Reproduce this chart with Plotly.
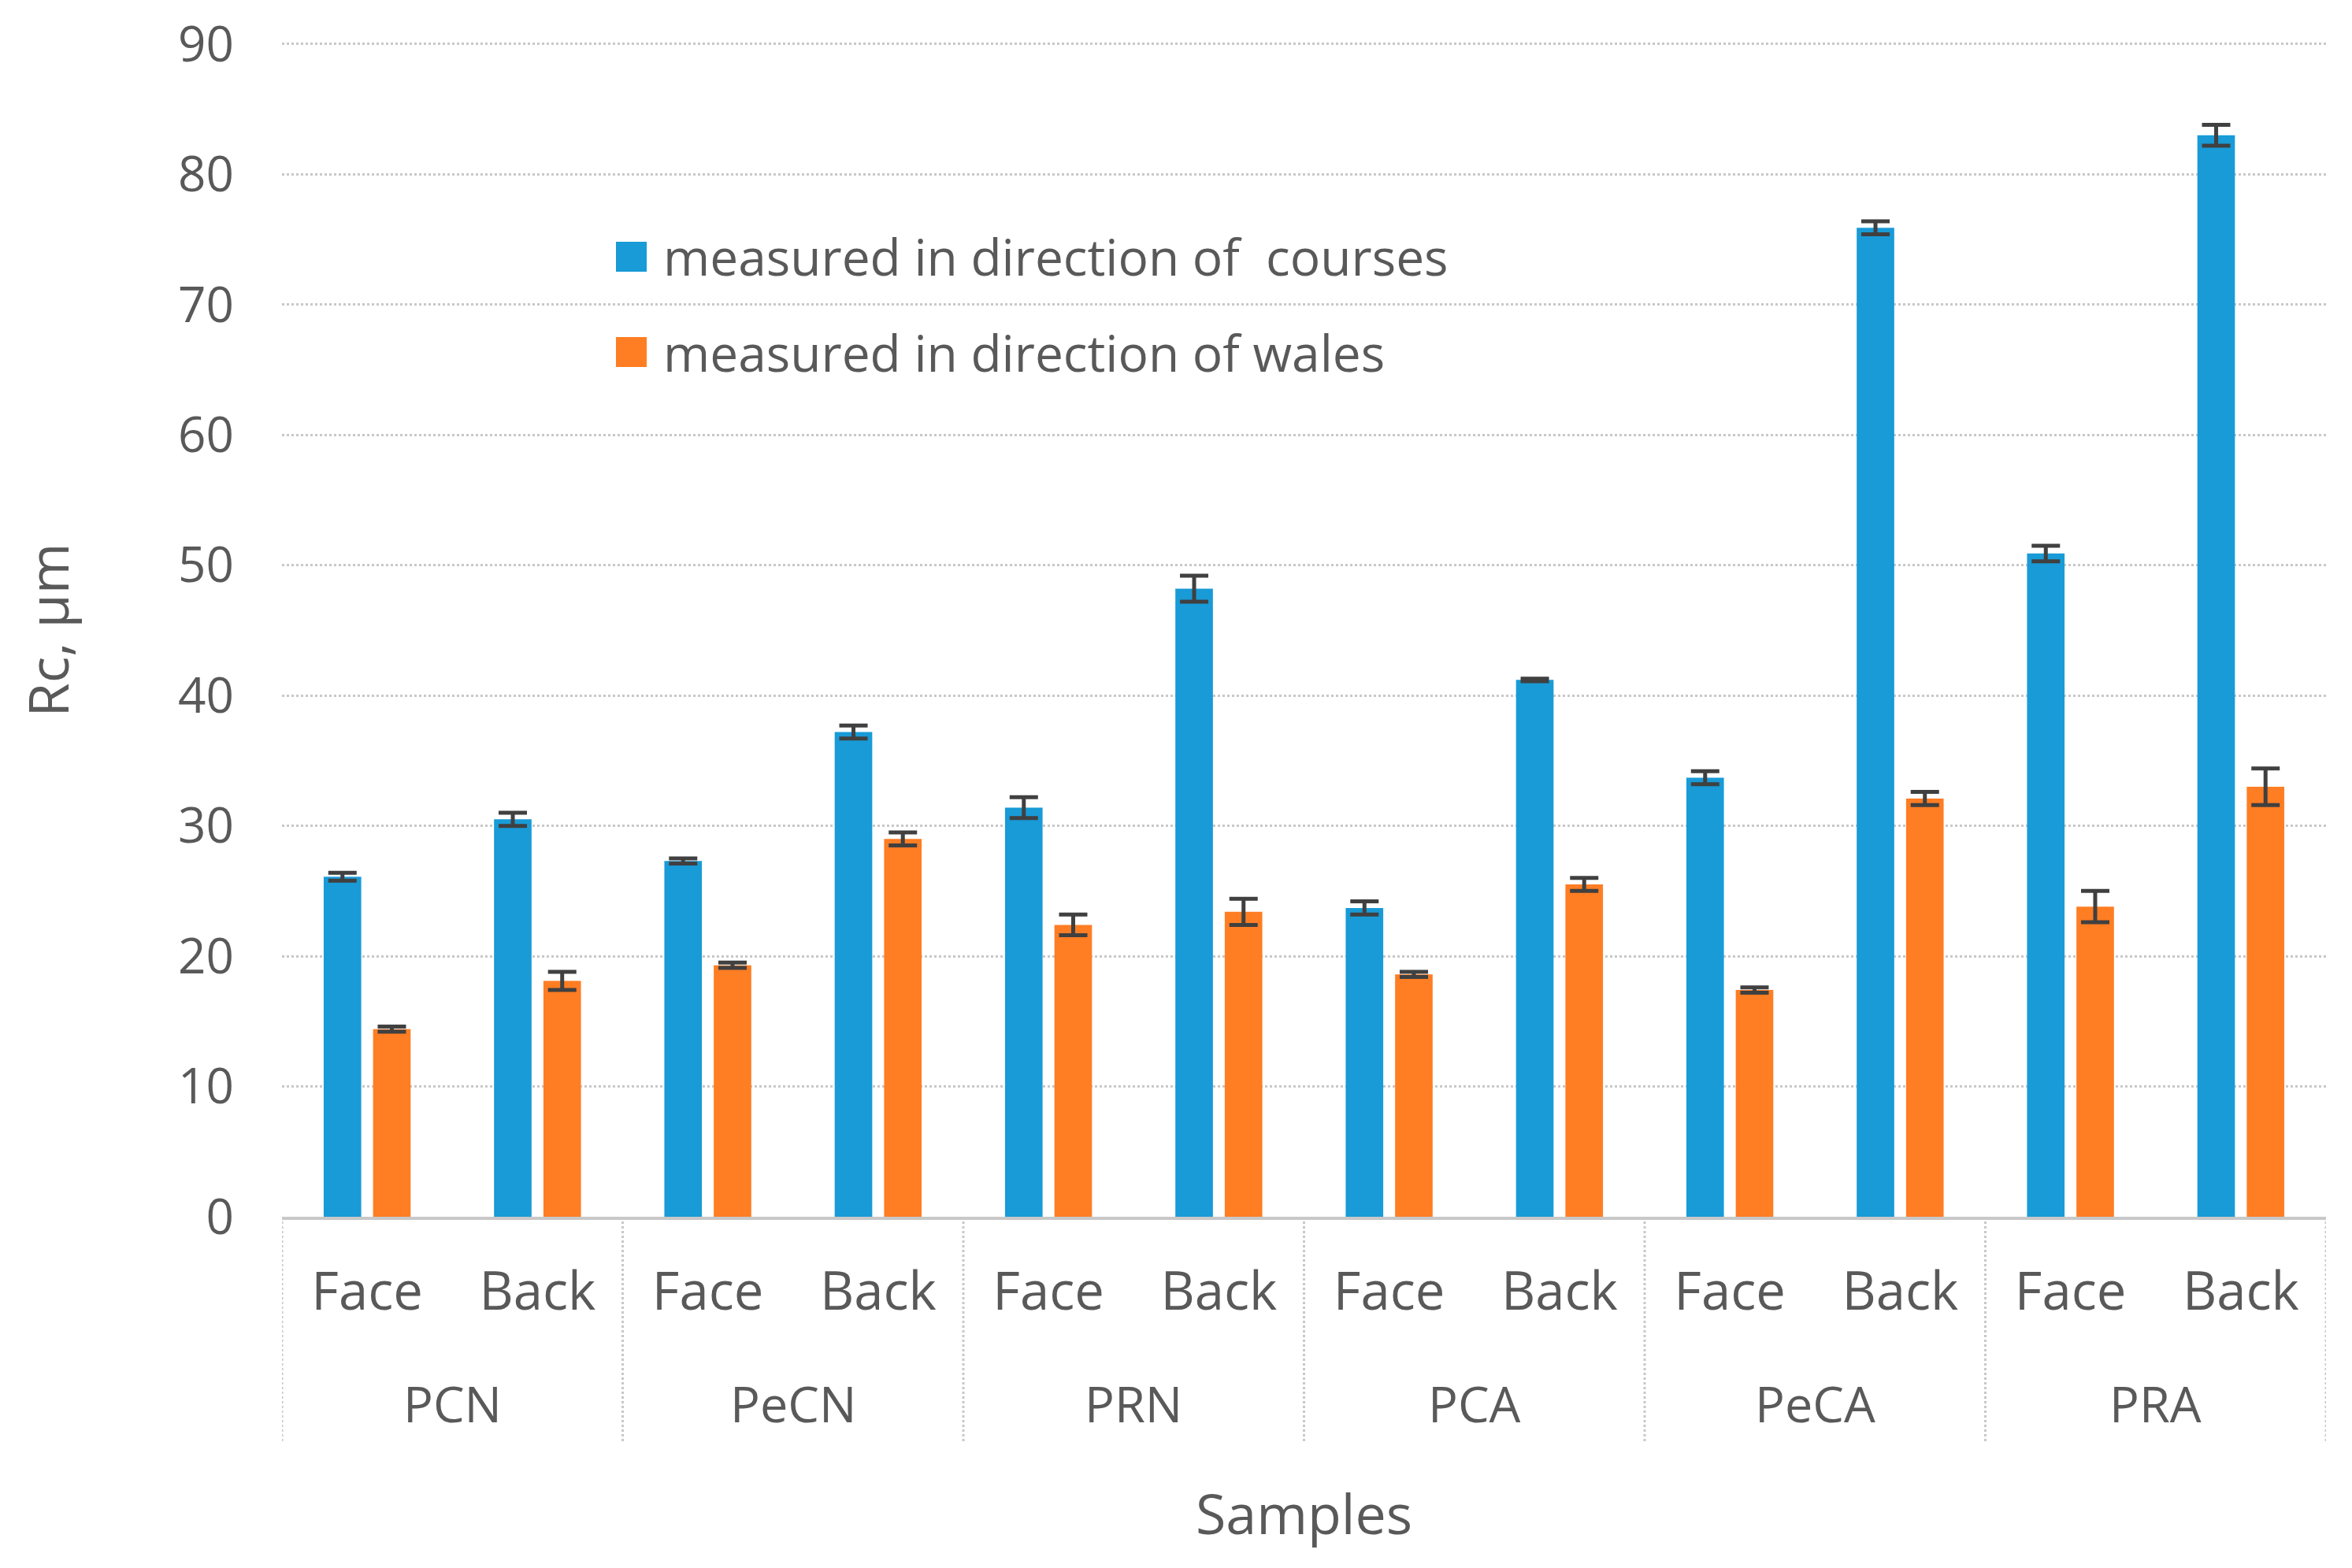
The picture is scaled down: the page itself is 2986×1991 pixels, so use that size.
import plotly.graph_objects as go

groups = ["PCN", "PeCN", "PRN", "PCA", "PeCA", "PRA"]
sides = ["Face", "Back"]

courses = [26.1, 30.5, 27.3, 37.2, 31.4, 48.2, 23.7, 41.2, 33.7, 75.9, 50.9, 83.0]
courses_err = [0.3, 0.5, 0.2, 0.5, 0.8, 1.0, 0.5, 0.1, 0.5, 0.5, 0.6, 0.8]
wales = [14.4, 18.1, 19.3, 29.0, 22.4, 23.4, 18.6, 25.5, 17.4, 32.1, 23.8, 33.0]
wales_err = [0.2, 0.7, 0.2, 0.5, 0.8, 1.0, 0.2, 0.5, 0.2, 0.5, 1.2, 1.4]

y_ticks = [0, 10, 20, 30, 40, 50, 60, 70, 80, 90]
y_max = 90.6

series_names = ["measured in direction of  courses", "measured in direction of wales"]
series_colors = ["#189BD7", "#FF7D23"]

x_keys = [f"{g} {s}" for g in groups for s in sides]
x_side_labels = [s for _ in groups for s in sides]

FONT = "Open Sans"
TXT = "#595959"
ERR = "#404040"
GRID = "#c8c8c8"

W, H = 2986, 1991
ML, MR, MT, MB = 350, 41, 38, 454
plot_w = W - ML - MR
plot_h = H - MT - MB
axis_y = H - MB          # bottom of plot area, figure px

fig = go.Figure()
for name, vals, errs, col in [(series_names[0], courses, courses_err, series_colors[0]),
                              (series_names[1], wales, wales_err, series_colors[1])]:
    fig.add_trace(go.Bar(
        x=x_keys, y=vals, name=name,
        marker=dict(color=col, line=dict(width=0)),
        error_y=dict(type="data", array=errs, visible=True, color=ERR, thickness=5, width=18),
        showlegend=False,
    ))

def py(px_below_axis):
    return -px_below_axis / plot_h

def px_x(fig_x):
    return (fig_x - ML) / plot_w

def px_y(fig_y):
    return (axis_y - fig_y) / plot_h

shapes = []
annotations = []
# category dividers below the axis
for i in range(len(groups) + 1):
    xb = i * len(sides) - 0.5
    shapes.append(dict(type="line", xref="x", yref="paper", x0=xb, x1=xb,
                       y0=0, y1=py(287), line=dict(color=GRID, width=3, dash="dot")))
# group labels
for i, g in enumerate(groups):
    annotations.append(dict(x=i * len(sides) + 0.5, y=py(236), xref="x", yref="paper",
                            text=g, showarrow=False, xanchor="center", yanchor="middle",
                            font=dict(size=63, color=TXT, family=FONT)))
# legend (squares + text)
leg_y = [px_y(318), px_y(439)]
sq = 19 / plot_h
for name, col, yc in zip(series_names, series_colors, leg_y):
    shapes.append(dict(type="rect", xref="paper", yref="paper",
                       x0=px_x(774), x1=px_x(813),
                       y0=yc - sq, y1=yc + sq, fillcolor=col, line=dict(width=0)))
    annotations.append(dict(x=px_x(832), y=yc, xref="paper", yref="paper",
                            text=name, showarrow=False, xanchor="left", yanchor="middle",
                            font=dict(size=64, color=TXT, family=FONT)))
# y-axis title
annotations.append(dict(x=px_x(52), y=0.5 * 90 / y_max, xref="paper", yref="paper",
                        text="Rc, µm", textangle=-90, showarrow=False,
                        xanchor="center", yanchor="middle",
                        font=dict(size=70, color=TXT, family=FONT)))

fig.update_layout(
    width=W, height=H,
    margin=dict(l=ML, r=MR, t=MT, b=MB, autoexpand=False),
    paper_bgcolor="white", plot_bgcolor="white",
    barmode="group", bargap=0.42, bargroupgap=0.24,
    font=dict(family=FONT, size=60, color=TXT),
    showlegend=False,
    shapes=shapes, annotations=annotations,
)
fig.update_yaxes(
    range=[0, y_max], tickvals=y_ticks, ticktext=[str(v) for v in y_ticks],
    showgrid=True, gridcolor=GRID, gridwidth=3, griddash="dot",
    zeroline=False, showline=False, ticks="", automargin=False,
    ticklabeloverflow="allow",
    tickfont=dict(size=62, color=TXT), ticklabelstandoff=60,
)
fig.update_xaxes(
    type="category", range=[-0.5, len(x_keys) - 0.5],
    tickvals=x_keys, ticktext=x_side_labels,
    showline=True, linecolor=GRID, linewidth=4,
    showgrid=False, ticks="", automargin=False,
    tickfont=dict(size=67, color=TXT), ticklabelstandoff=34,
    title=dict(text="Samples", font=dict(size=70, color=TXT), standoff=218),
)

fig.write_html("out.html")
